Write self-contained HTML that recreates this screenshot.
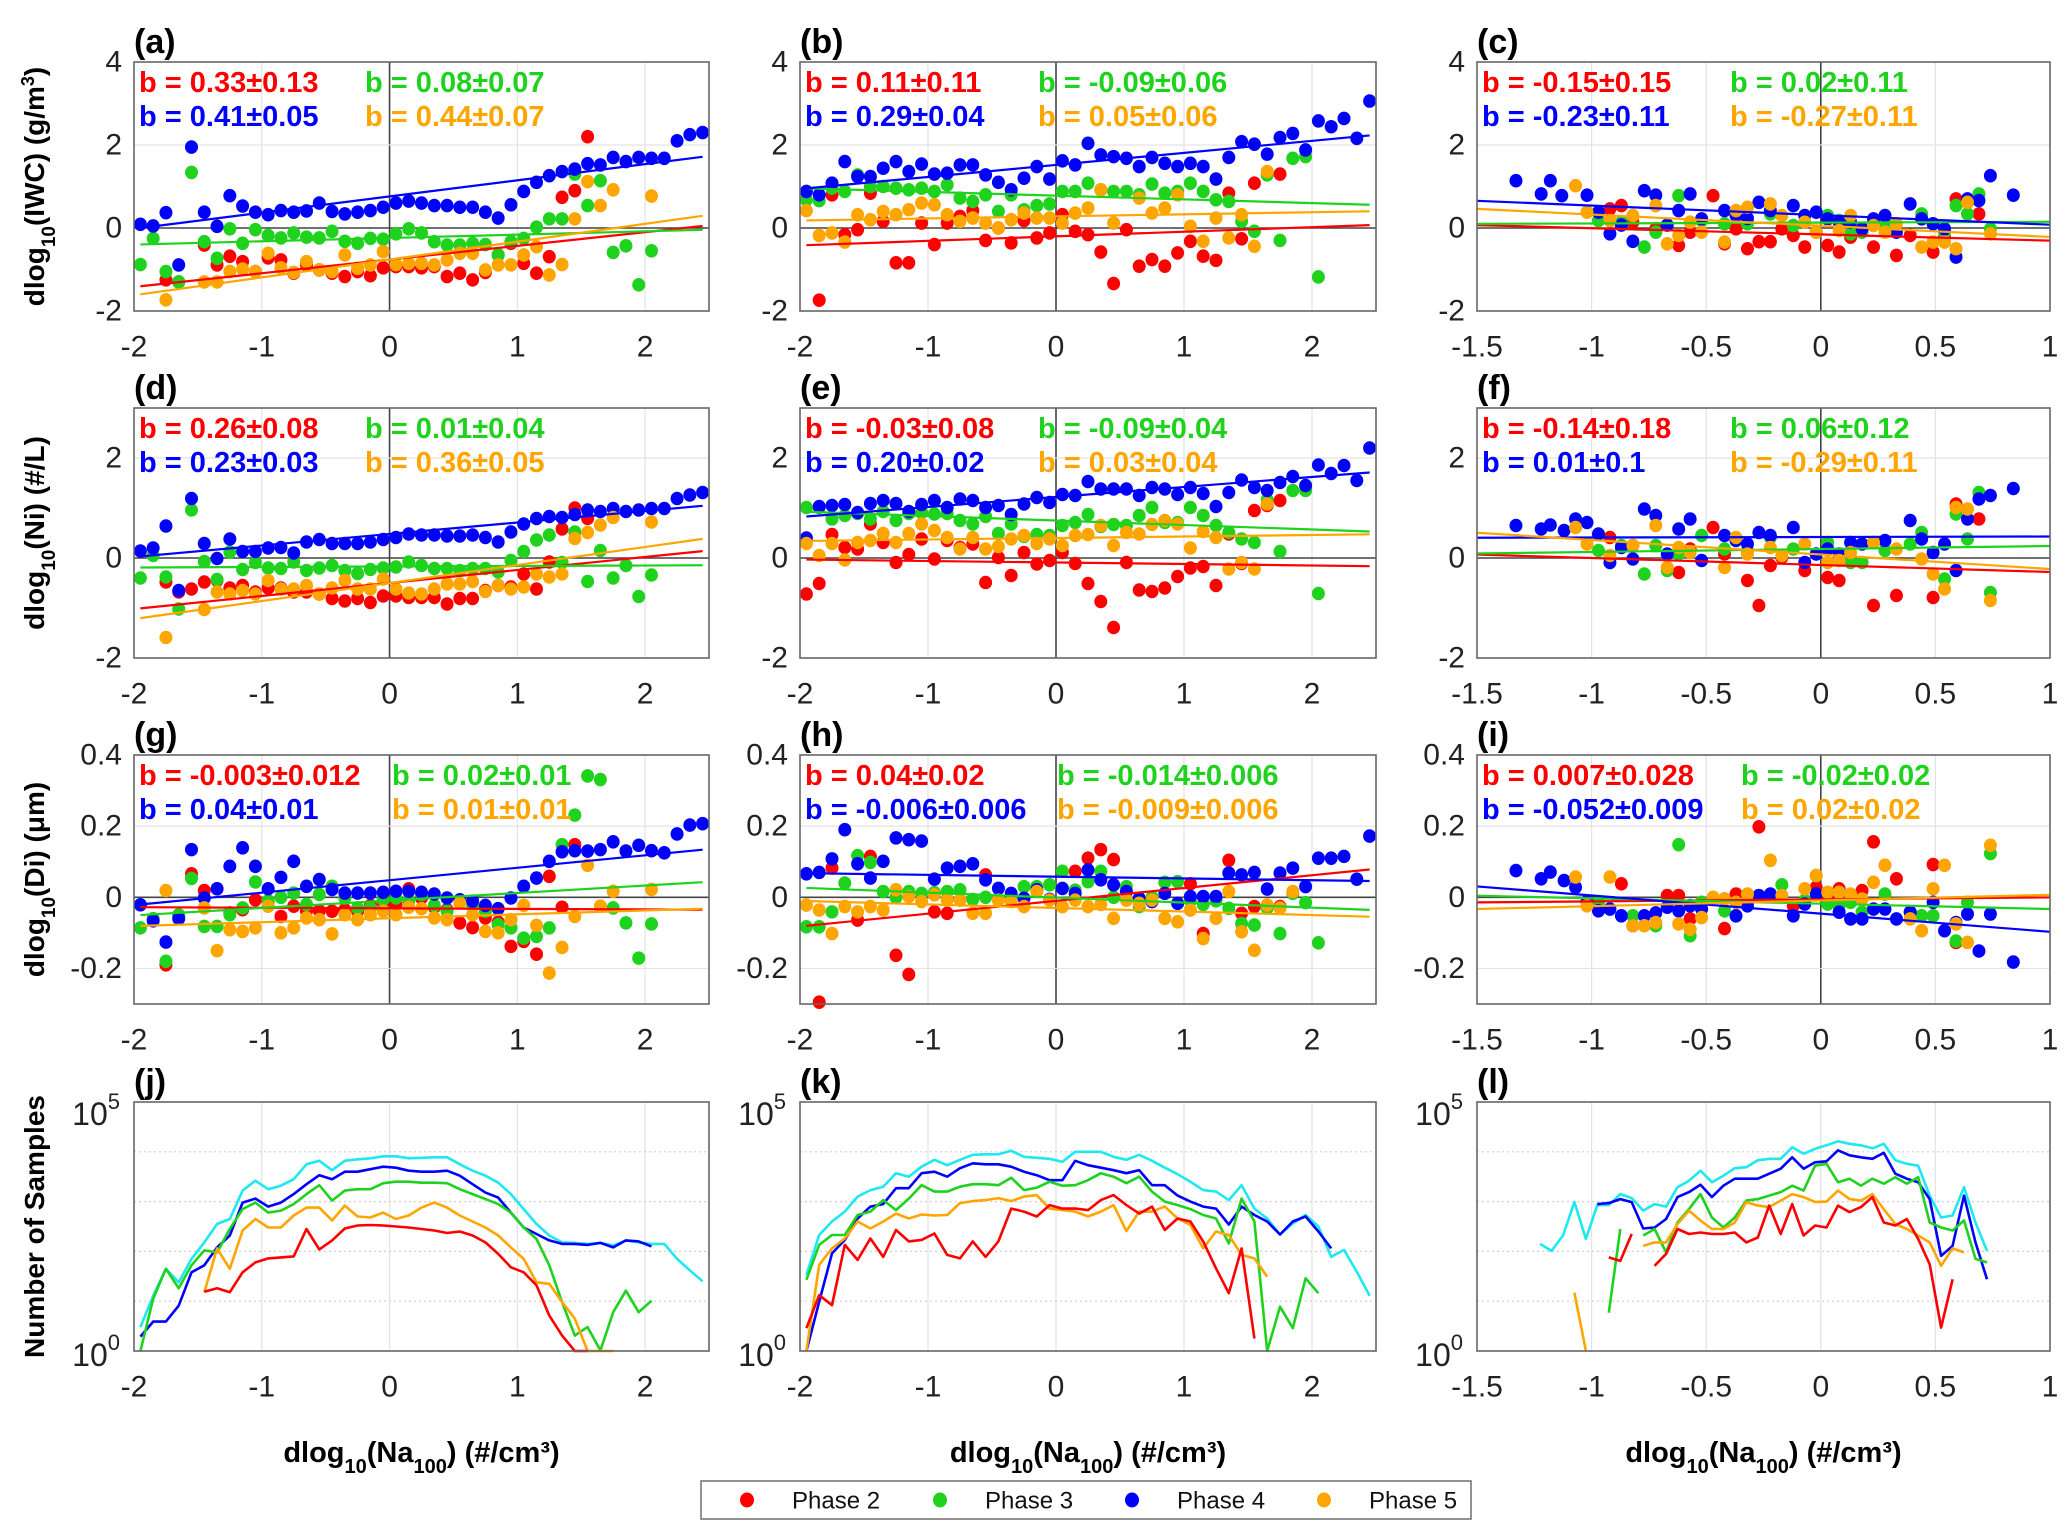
<!DOCTYPE html>
<html><head><meta charset="utf-8"><title>Phase regressions</title>
<style>
html,body{margin:0;padding:0;background:#fff;}
svg{display:block;font-family:"Liberation Sans",Arial,sans-serif;}
</style></head>
<body>
<svg id="fig" width="2067" height="1539" viewBox="0 0 2067 1539" xmlns="http://www.w3.org/2000/svg"></svg>
<script>
// ---------- DATA (series order: red=Phase2, green=Phase3, blue=Phase4, orange=Phase5) ----------
const phaseNames = ["Phase 2","Phase 3","Phase 4","Phase 5"];
// ---- panel (a) IWC, x from start, step 0.1
const aStart = [-1.75,-1.95,-1.95,-1.75];
const aRed = [-1.25,-1.3,null,-0.41,-0.89,-0.68,-0.81,-1.05,-0.72,-0.77,-1.09,-0.89,-1.01,-1.09,-1.17,-1.05,-1.15,-0.96,-0.93,-0.93,-0.96,-0.93,-1.17,-1.09,-1.25,-1.07,-0.65,-0.37,-0.85,-1.09,-0.69,0.74,0.9,2.2];
const aGreen = [-0.88,-0.25,-1.05,-1.3,1.34,-0.33,-0.73,-0.02,-0.37,-0.04,-0.18,-0.24,-0.12,-0.22,-0.24,-0.08,-0.32,-0.37,-0.25,-0.27,-0.14,-0.02,-0.12,-0.33,-0.41,-0.41,-0.37,-0.4,-0.65,-0.33,-0.25,0.02,0.22,0.22,1.3,0.54,1.14,-0.59,-0.43,-1.37,-0.55];
const aBlue = [0.09,0.05,0.37,-0.89,1.95,0.38,0.04,0.78,0.53,0.38,0.32,0.42,0.38,0.41,0.6,0.4,0.34,0.38,0.42,0.5,0.6,0.65,0.6,0.54,0.54,0.5,0.5,0.38,0.24,0.56,0.88,1.1,1.26,1.36,1.42,1.55,1.52,1.7,1.6,1.7,1.68,1.68,2.1,2.25,2.3];
const aOrange = [-1.73,null,null,-1.3,-1.3,-1.05,-0.99,-1.05,-0.61,-0.96,-1.07,-0.81,-1.01,-1.05,-0.65,-0.97,-0.89,-0.57,-0.88,-0.85,-0.85,-0.89,-0.77,-0.61,-0.61,-1.01,-0.89,-0.89,-0.65,-0.45,-1.13,-0.88,0.22,1.12,0.54,0.92,null,null,0.77];
const aSlope = [0.33,0.08,0.39,0.43];
const aIcpt = [-0.76,-0.24,0.76,-0.76];
const aLabels = ["b = 0.33±0.13","b = 0.08±0.07","b = 0.41±0.05","b = 0.44±0.07"];
// ---- panel (b)
const bStart = [-1.85,-1.95,-1.95,-1.95];
const bRed = [-1.74,0.8,-0.16,-0.04,0.84,0.16,-0.84,-0.84,0.12,-0.4,0.12,0.28,0.42,-0.3,0,-0.36,0.18,-0.24,-0.12,0.32,-0.08,-0.16,-0.58,-1.34,-0.04,-0.92,-0.76,-0.92,-0.6,-0.32,-0.68,-0.78,0.84,-0.26,1.08,null,1.3];
const bGreen = [0.68,0.66,0.96,0.88,1.28,1.0,1.0,0.96,0.92,0.96,0.88,1.04,0.72,0.64,0.8,0.4,0.8,0.44,0.54,0.58,0.88,0.88,1.08,0.92,0.88,0.88,0.8,1.06,0.84,0.88,1.08,0.88,0.68,0.64,0.16,-0.08,1.28,-0.3,1.68,1.72,-1.18];
const bBlue = [0.88,0.8,1.08,1.6,1.24,1.24,1.44,1.6,1.36,1.54,1.3,1.32,1.52,1.52,1.28,1.1,0.92,1.2,1.48,1.18,1.62,1.52,2.04,1.76,1.72,1.68,1.48,1.7,1.56,1.48,1.56,1.48,1.18,1.7,2.08,2.02,1.78,2.18,2.28,1.88,2.58,2.44,2.64,2.16,3.06];
const bOrange = [0.42,-0.18,-0.12,-0.34,0.32,0.2,0.4,0.32,0.44,0.6,0.56,0.32,0.16,0.24,0.12,0,0.2,0.36,0.24,0.24,0.12,0.36,0.48,0.92,0.12,null,0.72,0.36,0.48,0.8,0.04,-0.32,0.24,-0.24,0.32,-0.44,1.36];
const bSlope = [0.11,-0.09,0.29,0.05];
const bIcpt = [-0.2,0.78,1.52,0.28];
const bLabels = ["b = 0.11±0.11","b = -0.09±0.06","b = 0.29±0.04","b = 0.05±0.06"];
// ---- panel (c) explicit x
const cRedX = [-0.92,-0.87,-0.82,-0.72,-0.62,-0.57,-0.47,-0.42,-0.37,-0.32,-0.27,-0.22,-0.17,-0.12,-0.07,-0.02,0.03,0.08,0.13,0.23,0.33,0.39,0.49,0.54,0.59,0.64,0.69];
const cRedY = [0.46,0.54,0.14,-0.02,-0.42,-0.1,0.78,-0.38,-0.02,-0.5,-0.33,-0.33,-0.02,-0.18,-0.46,-0.1,-0.42,-0.58,-0.22,-0.46,-0.66,-0.18,-0.58,-0.22,0.7,0.62,0.34];
const cGreenX = [-0.97,-0.87,-0.77,-0.72,-0.62,-0.52,-0.42,-0.32,-0.22,-0.12,0.03,0.08,0.13,0.18,0.28,0.44,0.54,0.59,0.64,0.69,0.74];
const cGreenY = [0.18,0.14,-0.46,-0.1,0.78,0.18,0.1,0.1,0.34,0.06,0.3,0.18,-0.14,-0.1,0.14,0.34,-0.1,0.54,0.34,0.82,-0.02];
const cBlueX = [-1.33,-1.22,-1.18,-1.13,-1.02,-0.97,-0.92,-0.87,-0.82,-0.77,-0.72,-0.67,-0.62,-0.57,-0.52,-0.42,-0.37,-0.32,-0.27,-0.22,-0.12,-0.07,-0.02,0.03,0.08,0.13,0.18,0.23,0.28,0.33,0.39,0.44,0.49,0.54,0.59,0.64,0.69,0.74,0.84];
const cBlueY = [1.14,0.82,1.14,0.78,0.79,0.38,-0.14,0.07,-0.32,0.9,0.79,0.07,0.42,0.82,0.22,0.42,0.3,0.23,0.62,0.42,0.54,0.3,0.38,0.22,0.14,0.14,-0.02,0.22,0.3,-0.1,0.58,0.22,0.1,-0.02,-0.7,0.7,0.66,1.26,0.79];
const cOrangeX = [-1.07,-1.02,-0.92,-0.82,-0.72,-0.67,-0.62,-0.57,-0.52,-0.42,-0.37,-0.32,-0.22,-0.17,-0.07,-0.02,0.08,0.13,0.23,0.28,0.33,0.44,0.49,0.54,0.59,0.64,0.74];
const cOrangeY = [1.02,0.38,0.18,0.3,0.54,-0.38,-0.18,0.14,-0.1,-0.34,0.42,0.5,0.58,0.3,0.14,-0.1,-0.06,0.3,0.06,-0.1,0.1,-0.46,-0.34,-0.34,-0.5,0.62,-0.14];
const cSlope = [-0.15,0.02,-0.23,-0.27];
const cIcpt = [-0.155,0.13,0.31,0.055];
const cLabels = ["b = -0.15±0.15","b = 0.02±0.11","b = -0.23±0.11","b = -0.27±0.11"];
// ---- panel (d) Ni
const dStart = [-1.75,-1.95,-1.95,-1.75];
const dRed = [-0.48,-0.68,-0.62,-0.48,-0.45,-0.6,-0.55,-0.68,-0.6,-0.6,-0.68,-0.68,-0.72,-0.81,-0.86,-0.81,-0.89,-0.76,-0.76,-0.79,-0.79,-0.79,-0.92,-0.81,-0.81,-0.65,-0.55,-0.58,-0.32,-0.62,-0.08,0.58,1.0,0.79];
const dGreen = [-0.4,0.05,-0.38,-1.02,0.96,-0.07,-0.43,0.12,-0.23,-0.09,-0.2,-0.21,-0.08,-0.25,-0.2,-0.15,-0.25,-0.31,-0.23,-0.2,-0.18,-0.08,-0.15,-0.21,-0.21,-0.25,-0.21,-0.21,-0.28,-0.05,0.13,0.36,0.46,-0.09,0.52,-0.47,0.15,-0.4,-0.15,-0.77,-0.34];
const dBlue = [0.14,0.2,0.64,-0.65,1.19,0.29,-0.01,0.38,0.13,0.13,0.2,0.21,0.1,0.32,0.37,0.29,0.29,0.29,0.32,0.37,0.41,0.48,0.46,0.46,0.44,0.44,0.46,0.41,0.32,0.52,0.68,0.79,0.83,0.81,0.87,0.96,0.93,0.99,0.93,0.96,0.99,0.99,1.19,1.26,1.31];
const dOrange = [-1.59,null,null,-1.03,-0.68,-0.72,-0.65,-0.72,-0.45,-0.62,-0.62,-0.55,-0.72,-0.6,-0.45,-0.62,-0.62,-0.42,-0.62,-0.7,-0.72,-0.62,-0.52,-0.52,-0.47,-0.67,-0.55,-0.62,-0.58,-0.32,-0.38,-0.32,0.39,0.51,0.66,0.81,null,null,0.72];
const dSlope = [0.26,0.01,0.23,0.36];
const dIcpt = [-0.5,-0.17,0.48,-0.5];
const dLabels = ["b = 0.26±0.08","b = 0.01±0.04","b = 0.23±0.03","b = 0.36±0.05"];
// ---- panel (e)
const eStart = [-1.95,-1.95,-1.95,-1.95];
const eRed = [-0.72,-0.51,0.47,0.21,0.18,0.68,0.31,-0.09,0.07,0.38,-0.02,0.35,0.21,0.28,-0.49,0.01,-0.35,0.11,-0.12,-0.05,0.11,-0.11,-0.51,-0.87,-1.39,-0.09,-0.64,-0.67,-0.6,-0.37,-0.2,-0.17,-0.55,0.48,-0.11,0.95,1.05,1.15];
const eGreen = [1.01,1.01,0.78,0.85,0.89,0.78,0.93,0.75,0.89,0.91,0.88,0.89,0.75,0.68,0.83,0.49,0.68,0.43,0.47,0.45,0.65,0.71,0.87,0.63,0.67,0.65,0.85,1.01,0.71,0.71,1.01,0.85,0.65,0.51,0.38,0.31,1.16,0.13,1.35,1.35,-0.71];
const eBlue = [0.4,1.03,1.05,1.07,0.91,1.09,1.15,1.09,0.93,1.07,1.15,1.01,1.18,1.15,1.01,1.05,0.87,1.08,1.21,1.11,1.27,1.25,1.53,1.38,1.38,1.38,1.25,1.41,1.38,1.27,1.41,1.29,1.03,1.31,1.56,1.41,1.35,1.51,1.63,1.45,1.86,1.69,1.85,1.55,2.2];
const eOrange = [0.29,0.05,0.29,-0.04,0.31,0.35,0.49,0.31,0.49,0.68,0.55,0.41,0.18,0.41,0.18,0.23,0.38,0.45,0.29,0.38,0.25,0.45,0.47,0.65,0.25,0.51,0.48,0.67,0.75,0.68,0.2,0.53,0.41,-0.22,-0.09,-0.22,1.08];
const eSlope = [-0.03,-0.09,0.2,0.03];
const eIcpt = [-0.09,0.75,1.22,0.4];
const eLabels = ["b = -0.03±0.08","b = -0.09±0.04","b = 0.20±0.02","b = 0.03±0.04"];
// ---- panel (f)
const fRedX = [-0.92,-0.82,-0.62,-0.57,-0.47,-0.42,-0.32,-0.27,-0.22,-0.17,-0.07,0.03,0.08,0.23,0.33,0.49,0.59,0.69];
const fRedY = [0.41,0.25,-0.29,0.18,0.61,0.08,-0.45,-0.95,-0.15,0.01,-0.25,-0.39,-0.45,-0.95,-0.75,-0.79,1.08,0.78];
const fGreenX = [-0.97,-0.87,-0.77,-0.72,-0.67,-0.62,-0.52,-0.42,-0.32,-0.22,-0.12,0.03,0.08,0.13,0.18,0.28,0.39,0.44,0.54,0.59,0.64,0.69,0.74];
const fGreenY = [0.15,0.25,-0.32,0.25,-0.25,0.08,0.45,0.18,0.15,0.41,0.18,0.31,-0.02,-0.09,-0.09,0.15,0.28,0.51,-0.42,0.88,0.38,1.31,-0.69];
const fBlueX = [-1.33,-1.22,-1.18,-1.12,-1.07,-1.02,-0.97,-0.92,-0.87,-0.82,-0.77,-0.72,-0.67,-0.62,-0.57,-0.52,-0.42,-0.37,-0.32,-0.27,-0.22,-0.12,-0.07,-0.02,0.03,0.08,0.13,0.18,0.23,0.28,0.39,0.44,0.49,0.54,0.59,0.64,0.69,0.74,0.84];
const fBlueY = [0.65,0.58,0.66,0.55,0.78,0.71,0.48,-0.09,0.21,-0.02,0.98,0.85,0.08,0.58,0.78,-0.05,0.45,0.35,0.28,0.51,0.45,0.61,-0.09,0.08,0.18,0.08,0.31,0.28,0.31,0.35,0.75,0.38,0.11,0.28,-0.25,0.78,1.18,1.25,1.39];
const fOrangeX = [-1.07,-1.02,-0.92,-0.82,-0.72,-0.67,-0.62,-0.57,-0.42,-0.37,-0.32,-0.22,-0.17,-0.07,0.03,0.08,0.13,0.23,0.33,0.44,0.49,0.54,0.59,0.64,0.74];
const fOrangeY = [0.61,0.28,0.05,0.25,0.65,-0.19,0.21,0.11,-0.19,0.41,0.08,0.21,0.05,0.28,-0.09,-0.05,0.11,0.31,0.18,-0.02,-0.32,-0.62,1.01,0.98,-0.85];
const fSlope = [-0.14,0.06,0.01,-0.29];
const fIcpt = [-0.14,0.18,0.42,0.07];
const fLabels = ["b = -0.14±0.18","b = 0.06±0.12","b = 0.01±0.1","b = -0.29±0.11"];
// ---- panel (g) Di
const gStart = [-1.75,-1.95,-1.95,-1.75];
const gRed = [-0.19,-0.05,0.066,0.019,0.024,-0.044,-0.035,-0.007,-0.013,-0.054,-0.025,-0.039,-0.038,-0.039,-0.035,-0.039,-0.023,-0.016,-0.02,0.024,-0.002,-0.028,-0.035,-0.072,-0.085,-0.058,-0.07,-0.138,-0.124,-0.16,0.059,-0.028,0.148];
const gGreen = [-0.086,-0.06,-0.18,-0.05,0.053,-0.082,-0.082,-0.049,-0.03,0.043,-0.01,0,0.012,-0.02,0.008,0.031,-0.002,-0.03,-0.03,-0.007,-0.002,-0.01,0.008,-0.023,-0.039,-0.011,-0.025,-0.039,-0.077,-0.086,-0.115,-0.11,-0.086,0.148,0.231,0.341,0.331,-0.03,-0.072,-0.171,-0.075];
const gBlue = [-0.021,-0.066,-0.126,-0.06,0.134,-0.002,0.024,0.087,0.139,0.087,0.024,0.056,0.101,0.031,0.05,0.022,0.012,0.012,0.012,0.014,0.017,0.017,0.014,0.009,-0.002,-0.007,-0.011,-0.023,-0.032,-0.002,0.031,0.054,0.101,0.128,0.131,0.13,0.134,0.156,0.13,0.146,0.131,0.125,0.178,0.203,0.207];
const gOrange = [0.019,null,null,-0.03,-0.15,-0.091,-0.096,-0.086,-0.025,-0.1,-0.086,-0.058,-0.063,-0.103,-0.049,-0.063,-0.049,-0.039,-0.049,-0.028,-0.032,-0.058,-0.063,-0.016,-0.049,-0.096,-0.1,-0.063,-0.023,-0.079,-0.213,-0.141,-0.054,0.09,-0.025,0.017,null,null,0.022];
const gSlope = [-0.0016,0.021,0.035,0.011];
const gIcpt = [-0.031,-0.009,0.048,-0.059];
const gLabels = ["b = -0.003±0.012","b = 0.02±0.01","b = 0.04±0.01","b = 0.01±0.01"];
// ---- panel (h)
const hStart = [null,-1.95,-1.95,-1.95];
const hRedX = [-1.85,-1.75,-1.55,-1.45,-1.25,-1.15,-0.95,-0.85,-0.55,0.15,0.25,0.35,0.45,1.05,1.15,1.35,1.45,1.55,1.75];
const hRed = [-0.295,0.082,-0.064,0.115,-0.163,-0.217,-0.041,-0.045,0.063,0.073,0.11,0.134,0.106,0.038,-0.102,0.104,-0.045,-0.026,-0.026];
const hGreen = [-0.083,-0.083,-0.041,0.04,0.117,0.098,0.016,0.0,0.016,0.011,0.013,0.016,0.021,-0.006,0.0,-0.008,0.002,0.03,0.03,0.035,0.073,0.02,0.044,0.073,0.0,0.03,-0.026,0.0,0.042,0.044,-0.01,-0.02,-0.01,-0.031,-0.074,-0.078,-0.03,-0.102,0.011,-0.015,-0.128];
const hBlue = [0.066,0.07,0.108,0.19,0.094,0.054,0.101,0.167,0.162,0.158,0.051,0.082,0.087,0.094,0.049,0.025,0.011,-0.003,0.021,-0.006,0.025,0.011,0.077,0.049,0.035,0.016,-0.003,-0.012,0.011,-0.017,0.002,0.002,0.002,0.068,0.063,0.07,0.023,0.068,0.082,0.03,0.11,0.11,0.115,0.051,0.172];
const hOrange = [-0.022,-0.036,-0.102,-0.026,-0.041,-0.026,-0.036,0.021,0.002,-0.012,0.007,-0.008,-0.008,-0.045,-0.045,-0.008,-0.012,-0.026,0.016,-0.008,-0.026,-0.008,-0.026,-0.02,-0.059,-0.008,-0.017,-0.008,-0.059,-0.069,-0.036,-0.116,-0.059,0.016,-0.097,-0.149,-0.022,-0.03,0.016];
const hSlope = [0.036,-0.014,-0.005,-0.010];
const hIcpt = [-0.01,-0.001,0.058,-0.03];
const hLabels = ["b = 0.04±0.02","b = -0.014±0.006","b = -0.006±0.006","b = -0.009±0.006"];
// ---- panel (i)
const iRedX = [-0.87,-0.67,-0.62,-0.57,-0.42,-0.37,-0.27,-0.22,-0.12,-0.02,0.03,0.08,0.18,0.23,0.33,0.39,0.49,0.59];
const iRedY = [0.038,0.005,0.005,-0.061,-0.088,0.009,0.198,0.005,-0.024,0.028,0.005,0.024,0.019,0.156,0.052,-0.042,0.092,-0.127];
const iGreenX = [-0.97,-0.82,-0.72,-0.62,-0.57,-0.52,-0.42,-0.37,-0.32,-0.17,-0.07,-0.02,0.03,0.08,0.13,0.18,0.28,0.39,0.44,0.49,0.59,0.64,0.74];
const iGreenY = [-0.014,-0.052,-0.08,0.148,-0.108,-0.014,-0.038,-0.052,-0.014,0.035,-0.009,0.061,-0.019,-0.024,-0.014,-0.042,0.009,-0.042,-0.052,-0.052,-0.123,-0.014,0.123];
const iBlueX = [-1.33,-1.22,-1.18,-1.12,-1.07,-1.02,-0.97,-0.92,-0.87,-0.82,-0.77,-0.72,-0.67,-0.62,-0.57,-0.52,-0.42,-0.37,-0.32,-0.27,-0.22,-0.12,-0.07,-0.02,0.08,0.13,0.18,0.23,0.28,0.33,0.39,0.49,0.54,0.59,0.64,0.69,0.74,0.84];
const iBlueY = [0.075,0.052,0.071,0.047,0.028,-0.012,-0.038,-0.033,-0.052,-0.08,-0.052,-0.044,-0.028,-0.038,-0.024,-0.033,-0.005,-0.052,-0.024,0.005,0.009,-0.052,-0.019,0.009,-0.042,-0.061,-0.061,-0.033,-0.033,-0.061,-0.042,-0.014,-0.094,-0.071,-0.047,-0.151,-0.047,-0.182];
const iOrangeX = [-1.07,-1.02,-0.92,-0.82,-0.77,-0.72,-0.62,-0.57,-0.52,-0.47,-0.42,-0.37,-0.32,-0.22,-0.17,-0.07,-0.02,0.03,0.08,0.13,0.18,0.23,0.28,0.39,0.44,0.49,0.54,0.59,0.64,0.74];
const iOrangeY = [0.057,-0.024,0.057,-0.08,-0.08,-0.071,-0.075,-0.09,-0.057,0,-0.005,-0.014,0.009,0.104,0.005,0.024,0.061,0.014,0.014,0.009,-0.005,0.042,0.09,-0.061,-0.094,0.024,0.09,-0.075,-0.127,0.146];
const iSlope = [0.0056,-0.015,-0.051,0.016];
const iIcpt = [-0.006,-0.018,-0.046,-0.009];
const iLabels = ["b = 0.007±0.028","b = -0.02±0.02","b = -0.052±0.009","b = 0.02±0.02"];
// ---- sample counts (log10 of number of samples); start order: total, red, green, blue, orange
const jStart = [-1.95,-1.45,-1.95,-1.95,-1.45];
const jTotalLog = [0.48,1.11,1.65,1.38,1.85,2.18,2.55,2.65,3.22,3.42,3.25,3.32,3.45,3.75,3.82,3.63,3.82,3.85,3.87,3.91,3.91,3.87,3.88,3.89,3.89,3.75,3.62,3.52,3.38,3.15,2.85,2.55,2.32,2.18,2.17,2.15,2.17,2.12,2.22,2.18,2.15,2.15,1.85,1.62,1.4];
const jRedLog = [1.19,1.26,1.18,1.58,1.78,1.86,1.88,1.9,2.45,2.04,2.22,2.46,2.52,2.53,2.52,2.5,2.48,2.45,2.42,2.37,2.4,2.32,2.18,1.95,1.68,1.58,1.32,0.71,0.31,0,0];
const jGreenLog = [0,1.05,1.65,1.26,1.72,2.02,1.98,2.45,2.85,2.98,2.78,2.82,2.95,3.15,3.33,3.02,3.22,3.25,3.25,3.37,3.4,3.4,3.38,3.38,3.37,3.25,3.15,3.05,2.95,2.78,2.48,2.25,1.72,0.98,0.31,0.48,0.01,0.78,1.21,0.78,1.01];
const jBlueLog = [0.29,0.59,0.59,0.91,1.58,1.72,2.08,2.32,2.98,3.06,2.9,2.98,3.15,3.35,3.53,3.45,3.6,3.6,3.65,3.7,3.68,3.62,3.6,3.6,3.62,3.52,3.35,3.18,3.08,2.78,2.48,2.35,2.22,2.15,2.15,2.13,2.17,2.08,2.22,2.2,2.1];
const jOrangeLog = [1.18,2.06,1.65,2.42,2.65,2.48,2.48,2.72,2.88,2.88,2.62,2.92,2.7,2.68,2.78,2.65,2.72,2.88,2.98,2.88,2.72,2.6,2.48,2.32,2.08,1.85,1.38,1.35,0.98,0.65,0,0,0];
const kStart = [-1.95,-1.95,-1.95,-1.95,-1.95];
const kTotalLog = [1.53,2.33,2.6,2.8,3.1,3.23,3.3,3.57,3.5,3.7,3.84,3.73,3.84,3.94,3.95,3.95,4.02,3.9,3.88,3.86,3.8,4.0,4.0,4.0,3.9,3.84,3.94,3.82,3.68,3.55,3.4,3.23,3.2,3.03,3.33,2.86,2.66,2.34,2.56,2.73,2.5,1.89,2.03,1.59,1.11];
const kRedLog = [0.46,1.12,0.92,2.13,1.83,2.26,1.89,2.43,2.2,2.23,2.36,1.93,1.86,2.2,1.89,2.2,2.86,2.8,2.7,2.93,2.86,2.86,2.83,3.03,3.13,2.93,2.76,2.9,2.43,2.66,2.6,2.2,1.66,1.16,2.06,0.25];
const kGreenLog = [1.43,2.13,2.33,2.33,2.73,2.8,3.03,2.83,3.06,3.33,3.2,3.2,3.3,3.35,3.35,3.33,3.48,3.23,3.28,3.4,3.32,3.33,3.43,3.57,3.5,3.37,3.5,3.2,3.0,2.93,2.85,2.73,2.66,2.16,3.06,2.6,0,0.89,0.46,1.46,1.16];
const kBlueLog = [0,0.99,1.96,2.23,2.66,2.9,2.95,3.27,3.27,3.57,3.6,3.5,3.67,3.77,3.75,3.75,3.7,3.6,3.53,3.43,3.43,3.82,3.73,3.68,3.63,3.57,3.63,3.33,3.33,3.12,3.0,2.9,2.86,2.54,2.9,2.73,2.6,2.34,2.6,2.7,2.4,2.06];
const kOrangeLog = [0,1.73,2.06,2.26,2.6,2.46,2.6,2.76,2.66,2.74,2.72,2.73,2.97,3.01,3.03,3.07,3.01,3.1,3.13,2.86,2.83,2.8,2.7,2.8,2.93,2.41,2.8,2.8,2.9,2.66,2.53,2.06,2.4,2.33,1.93,1.86,1.49];
const lStart = [-1.225,-0.925,-0.925,-0.975,-1.075];
const lTotalLog = [2.15,2.01,2.32,2.99,2.25,2.93,2.93,3.15,3.07,2.82,2.95,2.9,3.29,3.42,3.62,3.39,3.52,3.67,3.69,3.83,3.86,3.86,4.09,3.96,4.06,4.13,4.21,4.16,4.13,4.07,4.16,3.83,3.76,3.72,3.12,2.68,2.72,3.29,2.58,2.01];
const lRedLog = [1.88,1.81,2.35,null,1.71,1.95,2.45,2.35,2.38,2.35,2.35,2.38,2.18,2.28,2.92,2.35,2.95,2.32,2.52,2.48,2.92,2.79,2.89,3.09,2.58,2.52,2.65,2.25,1.74,0.47,1.44];
const lGreenLog = [0.77,2.45,null,2.32,2.45,1.98,2.58,2.85,3.15,2.68,2.48,2.68,3.02,3.05,3.12,3.19,3.32,3.22,3.72,3.76,3.39,3.46,3.32,3.46,3.36,3.49,3.36,3.49,2.58,2.48,2.42,2.62,1.85,1.78];
const lBlueLog = [2.95,2.97,3.05,2.99,2.46,2.48,2.65,3.09,3.19,3.34,3.09,3.32,3.46,3.46,3.46,3.56,3.66,3.89,3.66,3.79,3.81,4.03,3.93,3.89,3.86,3.98,3.56,3.46,3.39,3.05,1.91,2.11,3.12,2.18,1.44];
const lOrangeLog = [1.17,0,null,null,null,null,2.11,2.18,2.18,2.55,2.82,2.62,2.45,2.45,2.58,2.99,2.92,2.89,3.02,3.15,3.09,2.99,3.0,3.22,3.05,3.02,3.15,2.85,2.55,2.45,2.32,2.18,1.71,2.06,1.98];
const xTicksWide = [-2,-1,0,1,2];
const xTicksNarrow = [-1.5,-1,-0.5,0,0.5,1];
const yTicksRow1 = [-2,0,2,4];
const yTicksRow2 = [-2,0,2];
const yTicksRow3 = [-0.2,0,0.2,0.4];
const yTicksRow4 = [0,5];
const yGridRow4 = [1,2,3,4];

// ---------- RENDER ----------
const NS = "http://www.w3.org/2000/svg";
const svg = document.getElementById("fig");
const COLORS = ["#ff0000","#1ed21e","#0000ff","#ffa500"];
const CYAN = "#1ee8f0";
function mk(tag, attrs, parent){
  const el = document.createElementNS(NS, tag);
  for (const k in attrs) el.setAttribute(k, attrs[k]);
  (parent||svg).appendChild(el);
  return el;
}
const colX = [[134,709],[800,1376],[1477,2050]];
const rowY = [[62,311],[408,658],[755,1004],[1102,1351]];
const rowYR = [[-2,4],[-2,3],[-0.3,0.4],[0,5]];
const rowTicks = [yTicksRow1,yTicksRow2,yTicksRow3,yTicksRow4];
const labelX2 = [[365,1038,1730],[365,1038,1730],[392,1057,1741]];

function makeAxes(letter,r,c){
  const [x0,x1] = colX[c], [y0,y1] = rowY[r];
  const xr = c===2 ? [-1.5,1] : [-2,2.5];
  const yr = rowYR[r];
  const sx = v => x0 + (v-xr[0])/(xr[1]-xr[0])*(x1-x0);
  const sy = v => y1 - (v-yr[0])/(yr[1]-yr[0])*(y1-y0);
  const g = mk("g",{});
  
  
  mk("rect",{x:x0,y:y0,width:x1-x0,height:y1-y0,fill:"#fff"},g);
  const xt = c===2 ? xTicksNarrow : xTicksWide;
  xt.forEach(t=>{
    if (t>xr[0] && t<xr[1]) {
      const ln = mk("line",{x1:sx(t),x2:sx(t),y1:y0,y2:y1,stroke:(t===0&&r<3)?"#444":"#e3e3e3","stroke-width":(t===0&&r<3)?1.6:1.2},g);
      
      
    }
    const tl = mk("text",{x:sx(t),y:y1+36,"text-anchor":"middle","dominant-baseline":"central","font-size":30,fill:"#222"},g);
    tl.textContent = String(t);
    
    
  });
  if (r<3){
    rowTicks[r].forEach(t=>{
      if (t>yr[0] && t<yr[1]) {
        const ln = mk("line",{x1:x0,x2:x1,y1:sy(t),y2:sy(t),stroke:t===0?"#444":"#e3e3e3","stroke-width":t===0?1.6:1.2},g);
        
        
      }
      const tl = mk("text",{x:x0-12,y:sy(t),"text-anchor":"end","dominant-baseline":"central","font-size":30,fill:"#222"},g);
      tl.textContent = String(t);
      
      
    });
  } else {
    yGridRow4.forEach(t=>{
      const ln = mk("line",{x1:x0,x2:x1,y1:sy(t),y2:sy(t),stroke:"#cfcfcf","stroke-width":1.2,"stroke-dasharray":"2,3"},g);
      
      
    });
    yTicksRow4.forEach(t=>{
      const tl = mk("text",{x:x0-14,y:sy(t)+ (t===0?4:12),"text-anchor":"end","dominant-baseline":"central","font-size":32,fill:"#222"},g);
      
      
      const a = mk("tspan",{},tl); a.textContent = "10";
      const b = mk("tspan",{"baseline-shift":"super","font-size":22},tl); b.textContent = String(t);
    });
  }
  const pl = mk("text",{x:x0,y:y0-9,"font-size":34,"font-weight":"bold",fill:"#000"},g);
  pl.textContent = "("+letter+")";
  
  
  const plot = mk("g",{},g);
  const frame = mk("rect",{x:x0,y:y0,width:x1-x0,height:y1-y0,fill:"none",stroke:"#666","stroke-width":1.6},g);
  
  
  return {sx,sy,plot,g,x0,y0,xr,c,r};
}
function dot(ax,x,y,col){
  const d = mk("ellipse",{cx:ax.sx(x),cy:ax.sy(y),rx:6.5,ry:6.8,fill:col},ax.plot);
  
  
}
function scatterStep(ax,start,vals,col){
  vals.forEach((v,i)=>{ if(v!==null) dot(ax,start+0.1*i,v,col); });
}
function scatterXY(ax,xs,ys,col){
  xs.forEach((x,i)=>dot(ax,x,ys[i],col));
}
function fitLines(ax,slopes,icpts){
  const xa = ax.c===2 ? -1.5 : -1.95, xb = ax.c===2 ? 1.0 : 2.45;
  slopes.forEach((s,k)=>{
    const ln = mk("line",{x1:ax.sx(xa),y1:ax.sy(icpts[k]+s*xa),x2:ax.sx(xb),y2:ax.sy(icpts[k]+s*xb),stroke:COLORS[k],"stroke-width":2.2},ax.plot);
    
    
  });
}
function slopeLabels(ax,labels){
  const xA = colX[ax.c][0]+5, xB = labelX2[ax.r][ax.c];
  const pos = [[xA,21],[xB,21],[xA,55],[xB,55]];
  labels.forEach((t,k)=>{
    const tx = mk("text",{x:pos[k][0],y:ax.y0+pos[k][1],"dominant-baseline":"central","font-size":29,"font-weight":"bold",fill:COLORS[k]},ax.g);
    tx.textContent = t;
    
    
  });
}
function series(ax,start,vals,col,step){
  let d = "", pen = false;
  vals.forEach((v,i)=>{
    if (v===null){ pen=false; return; }
    const px = ax.sx(start+step*i), py = ax.sy(v);
    d += (pen?"L":"M")+px.toFixed(1)+","+py.toFixed(1)+" ";
    pen = true;
  });
  const p = mk("path",{d:d,fill:"none",stroke:col,"stroke-width":2.6,"stroke-linejoin":"round"},ax.plot);
  
  
}

// Row 1
let ax = makeAxes("a",0,0);
scatterStep(ax,aStart[0],aRed,COLORS[0]); scatterStep(ax,aStart[1],aGreen,COLORS[1]); scatterStep(ax,aStart[2],aBlue,COLORS[2]); scatterStep(ax,aStart[3],aOrange,COLORS[3]);
fitLines(ax,aSlope,aIcpt); slopeLabels(ax,aLabels);
ax = makeAxes("b",0,1);
scatterStep(ax,bStart[0],bRed,COLORS[0]); scatterStep(ax,bStart[1],bGreen,COLORS[1]); scatterStep(ax,bStart[2],bBlue,COLORS[2]); scatterStep(ax,bStart[3],bOrange,COLORS[3]);
fitLines(ax,bSlope,bIcpt); slopeLabels(ax,bLabels);
ax = makeAxes("c",0,2);
scatterXY(ax,cRedX,cRedY,COLORS[0]); scatterXY(ax,cGreenX,cGreenY,COLORS[1]); scatterXY(ax,cBlueX,cBlueY,COLORS[2]); scatterXY(ax,cOrangeX,cOrangeY,COLORS[3]);
fitLines(ax,cSlope,cIcpt); slopeLabels(ax,cLabels);
// Row 2
ax = makeAxes("d",1,0);
scatterStep(ax,dStart[0],dRed,COLORS[0]); scatterStep(ax,dStart[1],dGreen,COLORS[1]); scatterStep(ax,dStart[2],dBlue,COLORS[2]); scatterStep(ax,dStart[3],dOrange,COLORS[3]);
fitLines(ax,dSlope,dIcpt); slopeLabels(ax,dLabels);
ax = makeAxes("e",1,1);
scatterStep(ax,eStart[0],eRed,COLORS[0]); scatterStep(ax,eStart[1],eGreen,COLORS[1]); scatterStep(ax,eStart[2],eBlue,COLORS[2]); scatterStep(ax,eStart[3],eOrange,COLORS[3]);
fitLines(ax,eSlope,eIcpt); slopeLabels(ax,eLabels);
ax = makeAxes("f",1,2);
scatterXY(ax,fRedX,fRedY,COLORS[0]); scatterXY(ax,fGreenX,fGreenY,COLORS[1]); scatterXY(ax,fBlueX,fBlueY,COLORS[2]); scatterXY(ax,fOrangeX,fOrangeY,COLORS[3]);
fitLines(ax,fSlope,fIcpt); slopeLabels(ax,fLabels);
// Row 3
ax = makeAxes("g",2,0);
scatterStep(ax,gStart[0],gRed,COLORS[0]); scatterStep(ax,gStart[1],gGreen,COLORS[1]); scatterStep(ax,gStart[2],gBlue,COLORS[2]); scatterStep(ax,gStart[3],gOrange,COLORS[3]);
fitLines(ax,gSlope,gIcpt); slopeLabels(ax,gLabels);
ax = makeAxes("h",2,1);
scatterXY(ax,hRedX,hRed,COLORS[0]); scatterStep(ax,hStart[1],hGreen,COLORS[1]); scatterStep(ax,hStart[2],hBlue,COLORS[2]); scatterStep(ax,hStart[3],hOrange,COLORS[3]);
fitLines(ax,hSlope,hIcpt); slopeLabels(ax,hLabels);
ax = makeAxes("i",2,2);
scatterXY(ax,iRedX,iRedY,COLORS[0]); scatterXY(ax,iGreenX,iGreenY,COLORS[1]); scatterXY(ax,iBlueX,iBlueY,COLORS[2]); scatterXY(ax,iOrangeX,iOrangeY,COLORS[3]);
fitLines(ax,iSlope,iIcpt); slopeLabels(ax,iLabels);
// Row 4
ax = makeAxes("j",3,0);
series(ax,jStart[0],jTotalLog,CYAN,0.1); series(ax,jStart[3],jBlueLog,COLORS[2],0.1); series(ax,jStart[2],jGreenLog,COLORS[1],0.1); series(ax,jStart[4],jOrangeLog,COLORS[3],0.1); series(ax,jStart[1],jRedLog,COLORS[0],0.1);
ax = makeAxes("k",3,1);
series(ax,kStart[0],kTotalLog,CYAN,0.1); series(ax,kStart[3],kBlueLog,COLORS[2],0.1); series(ax,kStart[2],kGreenLog,COLORS[1],0.1); series(ax,kStart[4],kOrangeLog,COLORS[3],0.1); series(ax,kStart[1],kRedLog,COLORS[0],0.1);
ax = makeAxes("l",3,2);
series(ax,lStart[0],lTotalLog,CYAN,0.05); series(ax,lStart[3],lBlueLog,COLORS[2],0.05); series(ax,lStart[2],lGreenLog,COLORS[1],0.05); series(ax,lStart[4],lOrangeLog,COLORS[3],0.05); series(ax,lStart[1],lRedLog,COLORS[0],0.05);

// Axis titles
const yTitles = [
  [["dlog",0],["10",1],["(IWC)  (g/m",0],["3",2],[")",0]],
  [["dlog",0],["10",1],["(Ni)  (#/L)",0]],
  [["dlog",0],["10",1],["(Di)  (μm)",0]],
  [["Number of Samples",0]]
];
yTitles.forEach((parts,r)=>{
  const cy = (rowY[r][0]+rowY[r][1])/2;
  const t = mk("text",{x:0,y:0,transform:"translate(44,"+cy+") rotate(-90)","text-anchor":"middle","font-size":28,"font-weight":"bold",fill:"#000"});
  
  
  parts.forEach(p=>{
    const s = mk("tspan",{},t);
    if (p[1]===1){ s.setAttribute("font-size","19"); s.setAttribute("baseline-shift","sub"); }
    if (p[1]===2){ s.setAttribute("font-size","18"); s.setAttribute("baseline-shift","super"); }
    s.textContent = p[0];
  });
});
colX.forEach(([a,b])=>{
  const t = mk("text",{x:(a+b)/2,y:1462,"text-anchor":"middle","font-size":29,"font-weight":"bold",fill:"#000"});
  
  
  [["dlog",0],["10",1],["(Na",0],["100",1],[") (#/cm³)",0]].forEach(p=>{
    const s = mk("tspan",{},t);
    if (p[1]===1){ s.setAttribute("font-size","20"); s.setAttribute("baseline-shift","sub"); }
    s.textContent = p[0];
  });
});

// Legend
const lg = mk("g",{});


mk("rect",{x:701,y:1481,width:770,height:38,fill:"#fff",stroke:"#777","stroke-width":1.6},lg);
const legDotX = [747,940,1132,1324];
phaseNames.forEach((n,k)=>{
  const d = mk("ellipse",{cx:legDotX[k],cy:1500,rx:7,ry:7.5,fill:COLORS[k]},lg);
  
  
  const t = mk("text",{x:legDotX[k]+45,y:1501,"dominant-baseline":"central","font-size":24,fill:"#111"},lg);
  t.textContent = n;
  
  
});
</script>
</body></html>
